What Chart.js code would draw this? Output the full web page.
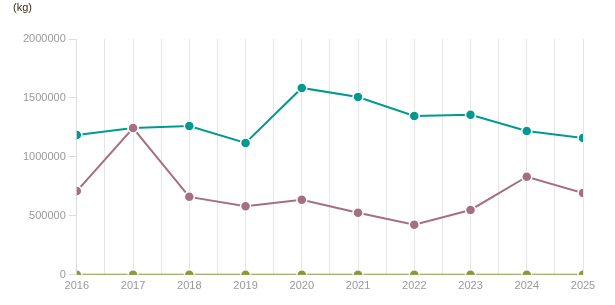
<!DOCTYPE html>
<html>
<head>
<meta charset="utf-8">
<script src="https://cdn.jsdelivr.net/npm/chart.js@4/dist/chart.umd.min.js"></script>
<style>
  html, body { margin: 0; padding: 0; background: #fff; }
  #wrap { position: relative; width: 615px; height: 305px; }
  #unit { position: absolute; left: 13px; top: 1px; font: 11px Arial, "Liberation Sans", sans-serif; color: #3a2a1a; }
  canvas { display: block; }
</style>
</head>
<body>
<div id="wrap">
  <div id="unit">(kg)</div>
  <canvas id="chart" width="615" height="305"></canvas>
</div>
<script>
const years = [2016, 2017, 2018, 2019, 2020, 2021, 2022, 2023, 2024, 2025];
const seriesTeal = [1185000, 1245000, 1262000, 1118000, 1585000, 1508000, 1347000, 1357000, 1220000, 1160000];
const seriesMauve = [710000, 1245000, 661000, 582000, 636000, 527000, 425000, 550000, 832000, 694000];
const seriesOlive = [0, 0, 0, 0, 0, 0, 0, 0, 0, 0];
const yTicks = [0, 500000, 1000000, 1500000, 2000000];

const toPoints = (vals) => vals.map((v, i) => ({ x: years[i], y: v }));

const lineSet = (vals, color) => ({
    data: toPoints(vals),
    borderColor: color,
    backgroundColor: color,
    borderWidth: 2,
    pointRadius: 5,
    pointHoverRadius: 5,
    pointBorderColor: '#fff',
    pointBorderWidth: 1.5,
    tension: 0
});

new Chart(document.getElementById('chart'), {
    type: 'line',
    data: {
        datasets: [
            lineSet(seriesOlive, '#8a993f'),
            lineSet(seriesMauve, '#a66f80'),
            lineSet(seriesTeal, '#009a90')
        ]
    },
    options: {
        responsive: false,
        animation: false,
        layout: { padding: { left: 20, right: 32, top: 39, bottom: 7 } },
        plugins: { legend: { display: false }, tooltip: { enabled: false } },
        scales: {
            x: {
                type: 'linear',
                min: years[0],
                max: years[years.length - 1],
                ticks: {
                    stepSize: 0.5,
                    autoSkip: false,
                    maxRotation: 0,
                    color: '#999',
                    font: { size: 11, family: 'Arial, "Liberation Sans", sans-serif' },
                    padding: 5,
                    callback: (v) => Number.isInteger(v) ? String(v) : ''
                },
                grid: { color: '#e6e6e6', drawTicks: false },
                border: { display: false }
            },
            y: {
                min: yTicks[0],
                max: yTicks[yTicks.length - 1],
                afterBuildTicks: (axis) => { axis.ticks = yTicks.map(v => ({ value: v })); },
                ticks: {
                    color: '#999',
                    font: { size: 11, family: 'Arial, "Liberation Sans", sans-serif' },
                    padding: 3,
                    callback: (v) => String(v)
                },
                grid: { drawOnChartArea: false, drawTicks: true, tickLength: 8, color: '#ddd' },
                border: { display: true, color: '#ddd' }
            }
        }
    }
});
</script>
</body>
</html>
